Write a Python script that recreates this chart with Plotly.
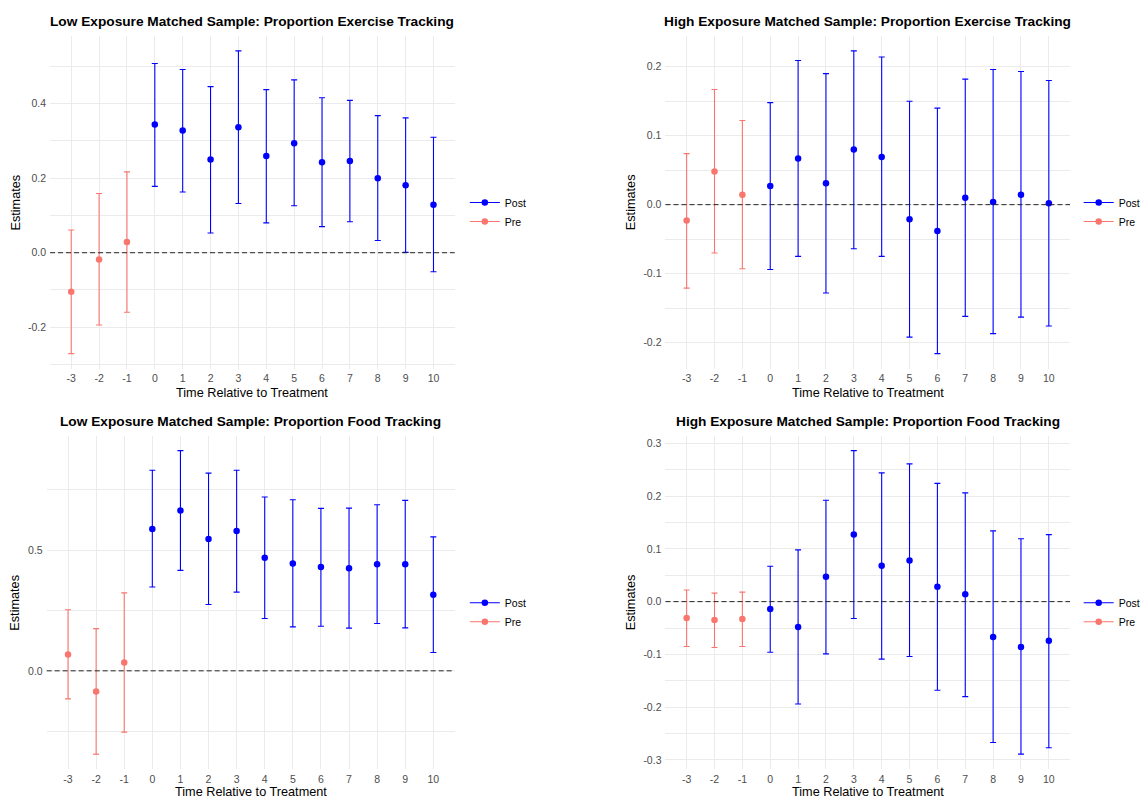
import plotly.graph_objects as go

W, H = 1146, 799
FONT = "Liberation Sans, Arial, Helvetica, sans-serif"
PRE_COLOR = "#F8766D"
POST_COLOR = "#0000FF"
GRID = "#EBEBEB"

# ---------------- data ----------------
time_pre = [-3, -2, -1]
time_post = [0, 1, 2, 3, 4, 5, 6, 7, 8, 9, 10]
x_ticks = [-3, -2, -1, 0, 1, 2, 3, 4, 5, 6, 7, 8, 9, 10]
x_tick_labels = ["-3", "-2", "-1", "0", "1", "2", "3", "4", "5", "6", "7", "8", "9", "10"]

# Low exposure - exercise
le_pre_est = [-0.105, -0.018, 0.029]
le_pre_lo = [-0.271, -0.194, -0.160]
le_pre_hi = [0.061, 0.159, 0.217]
le_post_est = [0.344, 0.328, 0.250, 0.337, 0.260, 0.294, 0.243, 0.246, 0.200, 0.181, 0.129]
le_post_lo = [0.178, 0.163, 0.053, 0.132, 0.080, 0.126, 0.070, 0.083, 0.033, 0.001, -0.051]
le_post_hi = [0.508, 0.492, 0.446, 0.542, 0.438, 0.464, 0.416, 0.409, 0.368, 0.362, 0.310]
le_yticks = [-0.2, 0.0, 0.2, 0.4]
le_ylabels = ["-0.2", "0.0", "0.2", "0.4"]
le_yminor = [-0.3, -0.1, 0.1, 0.3, 0.5]

# High exposure - exercise
he_pre_est = [-0.023, 0.048, 0.0145]
he_pre_lo = [-0.121, -0.070, -0.093]
he_pre_hi = [0.074, 0.167, 0.122]
he_post_est = [0.027, 0.067, 0.031, 0.080, 0.069, -0.021, -0.038, 0.010, 0.004, 0.0145, 0.002]
he_post_lo = [-0.094, -0.075, -0.128, -0.064, -0.075, -0.192, -0.216, -0.162, -0.187, -0.163, -0.176]
he_post_hi = [0.148, 0.209, 0.190, 0.223, 0.214, 0.150, 0.140, 0.182, 0.196, 0.193, 0.180]
he_yticks = [-0.2, -0.1, 0.0, 0.1, 0.2]
he_ylabels = ["-0.2", "-0.1", "0.0", "0.1", "0.2"]
he_yminor = [-0.15, -0.05, 0.05, 0.15]

# Low exposure - food
lf_pre_est = [0.068, -0.086, 0.035]
lf_pre_lo = [-0.116, -0.345, -0.254]
lf_pre_hi = [0.253, 0.175, 0.323]
lf_post_est = [0.588, 0.664, 0.546, 0.579, 0.468, 0.445, 0.430, 0.425, 0.442, 0.442, 0.315]
lf_post_lo = [0.347, 0.416, 0.275, 0.326, 0.217, 0.182, 0.185, 0.177, 0.196, 0.178, 0.076]
lf_post_hi = [0.831, 0.912, 0.819, 0.831, 0.720, 0.709, 0.673, 0.674, 0.688, 0.706, 0.555]
lf_yticks = [0.0, 0.5]
lf_ylabels = ["0.0", "0.5"]
lf_yminor = [-0.25, 0.25, 0.75]

# High exposure - food
hf_pre_est = [-0.031, -0.035, -0.033]
hf_pre_lo = [-0.085, -0.087, -0.085]
hf_pre_hi = [0.022, 0.016, 0.018]
hf_post_est = [-0.014, -0.048, 0.047, 0.127, 0.068, 0.078, 0.028, 0.014, -0.067, -0.086, -0.074]
hf_post_lo = [-0.096, -0.194, -0.099, -0.032, -0.109, -0.104, -0.168, -0.180, -0.267, -0.289, -0.277]
hf_post_hi = [0.067, 0.098, 0.192, 0.286, 0.244, 0.261, 0.224, 0.206, 0.134, 0.119, 0.127]
hf_yticks = [-0.3, -0.2, -0.1, 0.0, 0.1, 0.2, 0.3]
hf_ylabels = ["-0.3", "-0.2", "-0.1", "0.0", "0.1", "0.2", "0.3"]
hf_yminor = [-0.25, -0.15, -0.05, 0.05, 0.15, 0.25]

titles = [
    "Low Exposure Matched Sample: Proportion Exercise Tracking",
    "High Exposure Matched Sample: Proportion Exercise Tracking",
    "Low Exposure Matched Sample: Proportion Food Tracking",
    "High Exposure Matched Sample: Proportion Food Tracking",
]
x_title = "Time Relative to Treatment"
y_title = "Estimates"

# ---------------- layout geometry (pixels) ----------------
panels = [
    dict(pre=(le_pre_est, le_pre_lo, le_pre_hi), post=(le_post_est, le_post_lo, le_post_hi),
         yt=le_yticks, yl=le_ylabels, ym=le_yminor, px=(50.7, 460.7), py=(35.7, 368.8),
         title_y=21, xt_y=392.7, yt_x=16.5, leg=(471, 212)),
    dict(pre=(he_pre_est, he_pre_lo, he_pre_hi), post=(he_post_est, he_post_lo, he_post_hi),
         yt=he_yticks, yl=he_ylabels, ym=he_yminor, px=(674.3, 1084.2), py=(35.7, 368.8),
         title_y=21, xt_y=392.7, yt_x=639.3, leg=(1093, 212)),
    dict(pre=(lf_pre_est, lf_pre_lo, lf_pre_hi), post=(lf_post_est, lf_post_lo, lf_post_hi),
         yt=lf_yticks, yl=lf_ylabels, ym=lf_yminor, px=(47.3, 460.7), py=(435.5, 769.3),
         title_y=421, xt_y=791.5, yt_x=15.5, leg=(471, 612.2)),
    dict(pre=(hf_pre_est, hf_pre_lo, hf_pre_hi), post=(hf_post_est, hf_post_lo, hf_post_hi),
         yt=hf_yticks, yl=hf_ylabels, ym=hf_yminor, px=(674.3, 1084.2), py=(435.5, 769.3),
         title_y=421, xt_y=791.5, yt_x=639.3, leg=(1093, 612.2)),
]

fig = go.Figure()
layout = dict(
    width=W, height=H, margin=dict(l=0, r=0, t=0, b=0),
    paper_bgcolor="white", plot_bgcolor="white",
    font=dict(family=FONT, color="black"),
    showlegend=True,
)
annotations = []
shapes = []

xlo = min(time_pre) - 0.1
xhi = max(time_post) + 0.1
xpad = 0.05 * (xhi - xlo)

for i, p in enumerate(panels):
    n = "" if i == 0 else str(i + 1)
    xa, ya = "x" + n, "y" + n
    leg = "legend" + n

    all_lo = p["pre"][1] + p["post"][1]
    all_hi = p["pre"][2] + p["post"][2]
    ylo, yhi = min(all_lo), max(all_hi)
    ypad = 0.05 * (yhi - ylo)

    for name, times, (est, lo, hi), col in [
        ("Pre", time_pre, p["pre"], PRE_COLOR),
        ("Post", time_post, p["post"], POST_COLOR),
    ]:
        fig.add_trace(go.Scatter(
            x=times, y=est, mode="markers", name=name, showlegend=False,
            marker=dict(color=col, size=6.5, line=dict(width=0)),
            error_y=dict(type="data", symmetric=False,
                         array=[h - e for h, e in zip(hi, est)],
                         arrayminus=[e - l for e, l in zip(est, lo)],
                         color=col, thickness=1.1, width=3),
            xaxis=xa, yaxis=ya, hoverinfo="skip",
        ))
    for name, col in [("Post", POST_COLOR), ("Pre", PRE_COLOR)]:
        fig.add_trace(go.Scatter(
            x=[None], y=[None], mode="lines+markers", name=name,
            marker=dict(color=col, size=6.5), line=dict(color=col, width=1.1),
            xaxis=xa, yaxis=ya, legend=leg,
        ))

    x0, x1 = p["px"]
    yt0, yb0 = p["py"]
    layout["xaxis" + n] = dict(
        domain=[x0 / W, x1 / W], anchor=ya, range=[xlo - xpad, xhi + xpad],
        tickmode="array", tickvals=x_ticks, ticktext=x_tick_labels,
        showgrid=True, gridcolor=GRID, gridwidth=1.1, zeroline=False,
        showline=False, ticks="", ticklabelstandoff=2,
        tickfont=dict(size=10.5, color="#4D4D4D", family=FONT),
    )
    layout["yaxis" + n] = dict(
        domain=[1 - yb0 / H, 1 - yt0 / H], anchor=xa, range=[ylo - ypad, yhi + ypad],
        tickmode="array", tickvals=p["yt"], ticktext=p["yl"],
        showgrid=True, gridcolor=GRID, gridwidth=1.1, zeroline=False,
        showline=False, ticks="", ticklabelstandoff=3,
        minor=dict(tickvals=p["ym"], showgrid=True, gridcolor=GRID, gridwidth=0.6, ticks=""),
        tickfont=dict(size=10.5, color="#4D4D4D", family=FONT),
    )
    lx, ly = p["leg"]
    layout[leg] = dict(
        x=lx / W, y=1 - ly / H, xanchor="left", yanchor="middle",
        xref="paper", yref="paper",
        font=dict(size=10.5, color="black", family=FONT),
        bgcolor="rgba(0,0,0,0)", borderwidth=0, traceorder="normal",
        itemclick=False, itemdoubleclick=False,
    )
    shapes.append(dict(
        type="line", xref=xa + " domain", yref=ya, x0=0, x1=1, y0=0, y1=0,
        line=dict(color="#222222", width=1, dash="5px,3px"), layer="above",
    ))
    cx = (x0 + x1) / 2 / W
    annotations.append(dict(
        text="<b>" + titles[i] + "</b>", x=cx, y=1 - p["title_y"] / H,
        xref="paper", yref="paper", xanchor="center", yanchor="middle",
        showarrow=False, font=dict(size=13.7, color="black", family=FONT),
    ))
    annotations.append(dict(
        text=x_title, x=cx, y=1 - p["xt_y"] / H,
        xref="paper", yref="paper", xanchor="center", yanchor="middle",
        showarrow=False, font=dict(size=12.7, color="black", family=FONT),
    ))
    annotations.append(dict(
        text=y_title, x=p["yt_x"] / W, y=1 - (yt0 + yb0) / 2 / H,
        xref="paper", yref="paper", xanchor="center", yanchor="middle",
        textangle=-90, showarrow=False,
        font=dict(size=12.7, color="black", family=FONT),
    ))

layout["annotations"] = annotations
layout["shapes"] = shapes
fig.update_layout(**layout)
fig.write_html("out.html")
